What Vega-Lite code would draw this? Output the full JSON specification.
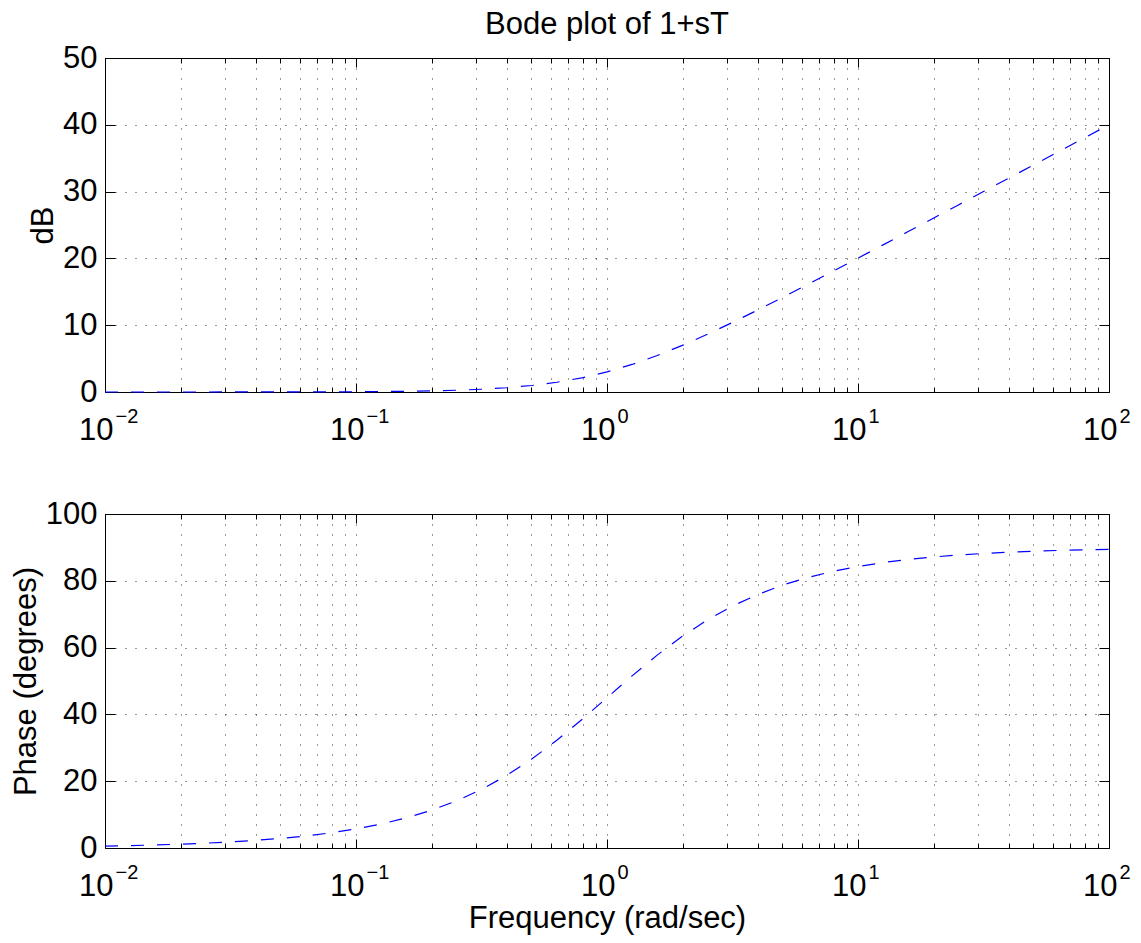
{
  "$schema": "https://vega.github.io/schema/vega-lite/v6.json",
  "padding": {"left": 9, "top": 8, "right": 5, "bottom": 2},
  "background": "white",
  "config": {
    "font": "Liberation Sans",
    "view": {"stroke": "#000", "strokeWidth": 1},
    "axis": {"labelColor": "#000", "titleColor": "#000", "tickColor": "#000", "tickWidth": 1, "labelFontSize": 31, "titleFontSize": 31, "titleFontWeight": "normal", "labelFlush": false, "labelOverlap": false, "domain": false}
  },
  "data": {"values": [
    {"w": 0.01, "db": 0.0004, "ph": 0.5729},
    {"w": 0.012589, "db": 0.0007, "ph": 0.7213},
    {"w": 0.015849, "db": 0.0011, "ph": 0.9080},
    {"w": 0.019953, "db": 0.0017, "ph": 1.1431},
    {"w": 0.025119, "db": 0.0027, "ph": 1.4389},
    {"w": 0.031623, "db": 0.0043, "ph": 1.8112},
    {"w": 0.039811, "db": 0.0069, "ph": 2.2798},
    {"w": 0.050119, "db": 0.0109, "ph": 2.8692},
    {"w": 0.063096, "db": 0.0173, "ph": 3.6103},
    {"w": 0.079433, "db": 0.0273, "ph": 4.5416},
    {"w": 0.1, "db": 0.0432, "ph": 5.7106},
    {"w": 0.125893, "db": 0.0683, "ph": 7.1754},
    {"w": 0.158489, "db": 0.1078, "ph": 9.0059},
    {"w": 0.199526, "db": 0.1695, "ph": 11.2838},
    {"w": 0.251189, "db": 0.2657, "ph": 14.1003},
    {"w": 0.316228, "db": 0.4139, "ph": 17.5484},
    {"w": 0.398107, "db": 0.6389, "ph": 21.7079},
    {"w": 0.501187, "db": 0.9732, "ph": 26.6195},
    {"w": 0.630957, "db": 1.4554, "ph": 32.2503},
    {"w": 0.794328, "db": 2.1244, "ph": 38.4611},
    {"w": 1, "db": 3.0103, "ph": 45},
    {"w": 1.258925, "db": 4.1244, "ph": 51.5389},
    {"w": 1.584893, "db": 5.4554, "ph": 57.7497},
    {"w": 1.995262, "db": 6.9732, "ph": 63.3805},
    {"w": 2.511886, "db": 8.6389, "ph": 68.2921},
    {"w": 3.162278, "db": 10.4139, "ph": 72.4516},
    {"w": 3.981072, "db": 12.2657, "ph": 75.8997},
    {"w": 5.011872, "db": 14.1695, "ph": 78.7162},
    {"w": 6.309573, "db": 16.1078, "ph": 80.9941},
    {"w": 7.943282, "db": 18.0683, "ph": 82.8246},
    {"w": 10, "db": 20.0432, "ph": 84.2894},
    {"w": 12.589254, "db": 22.0273, "ph": 85.4584},
    {"w": 15.848932, "db": 24.0173, "ph": 86.3897},
    {"w": 19.952623, "db": 26.0109, "ph": 87.1308},
    {"w": 25.118864, "db": 28.0069, "ph": 87.7202},
    {"w": 31.622777, "db": 30.0043, "ph": 88.1888},
    {"w": 39.810717, "db": 32.0027, "ph": 88.5611},
    {"w": 50.118723, "db": 34.0017, "ph": 88.8569},
    {"w": 63.095734, "db": 36.0011, "ph": 89.0920},
    {"w": 79.432823, "db": 38.0007, "ph": 89.2787},
    {"w": 100, "db": 40.0004, "ph": 89.4271}
  ]},
  "spacing": 122,
  "bounds": "flush",
  "vconcat": [
    {
      "width": 1004,
      "height": 334,
      "title": {"text": "Bode plot of 1+sT", "fontSize": 31, "fontWeight": "normal", "offset": 1, "anchor": "middle", "frame": "group", "color": "#000"},
      "layer": [
        {
          "mark": {"type": "line", "color": "#0000ff", "strokeWidth": 1.2, "strokeDash": [13, 13]},
          "encoding": {
            "x": {"field": "w", "type": "quantitative", "scale": {"type": "log", "domain": [0.01, 100], "nice": false},
              "axis": {"orient": "bottom", "values": [0.01,0.02,0.03,0.04,0.05,0.06,0.07,0.08,0.09,0.1,0.2,0.3,0.4,0.5,0.6,0.7,0.8,0.9,1,2,3,4,5,6,7,8,9,10,20,30,40,50,60,70,80,90,100],
                "grid": true, "gridDash": [1, 9], "gridColor": "#000", "gridOpacity": 0.8, "ticks": true,
                "tickSize": {"condition": {"test": "abs(log(datum.value)/LN10 - round(log(datum.value)/LN10)) < 0.001", "value": -9}, "value": -5},
                "labels": false, "title": null}},
            "y": {"field": "db", "type": "quantitative", "scale": {"domain": [0, 50], "nice": false},
              "axis": {"orient": "left", "values": [0, 10, 20, 30, 40, 50], "grid": true, "gridDash": [1, 9], "gridColor": "#000", "gridOpacity": 0.8,
                "ticks": false, "labelPadding": 8, "title": "dB", "titlePadding": 3}}
          }
        },
        {
          "mark": {"type": "line", "strokeOpacity": 0},
          "encoding": {
            "x": {"field": "w", "type": "quantitative",
              "axis": {"orient": "bottom", "values": [0.01, 0.1, 1, 10, 100], "ticks": false, "grid": false, "labelExpr": "'10'",
                "labelAlign": "right", "labelBaseline": "top", "labelOffset": 8,
                "labelPadding": 23, "title": null}},
            "y": {"field": "db", "type": "quantitative",
              "axis": {"orient": "right", "values": [0, 10, 20, 30, 40, 50], "ticks": true, "tickSize": -10, "labels": false, "grid": false, "title": null}}
          }
        },
        {
          "mark": {"type": "line", "strokeOpacity": 0},
          "encoding": {
            "x": {"field": "w", "type": "quantitative",
              "axis": {"orient": "bottom", "values": [0.01, 0.1, 1, 10, 100], "ticks": false, "grid": false,
                "labelExpr": "replace(format(round(log(datum.value)/LN10), 'd'), '-', '−')",
                "labelAlign": "left", "labelBaseline": "top", "labelFontSize": 20, "labelOffset": 10,
                "labelPadding": 14, "title": null}},
            "y": {"field": "db", "type": "quantitative",
              "axis": {"orient": "left", "values": [0, 10, 20, 30, 40, 50], "ticks": true, "tickSize": -10, "labels": false, "grid": false, "title": null}}
          }
        },
        {
          "mark": {"type": "line", "strokeOpacity": 0},
          "encoding": {
            "x": {"field": "w", "type": "quantitative",
              "axis": {"orient": "top", "values": [0.01,0.02,0.03,0.04,0.05,0.06,0.07,0.08,0.09,0.1,0.2,0.3,0.4,0.5,0.6,0.7,0.8,0.9,1,2,3,4,5,6,7,8,9,10,20,30,40,50,60,70,80,90,100],
                "ticks": true, "tickSize": {"condition": {"test": "abs(log(datum.value)/LN10 - round(log(datum.value)/LN10)) < 0.001", "value": -9}, "value": -5},
                "labels": false, "grid": false, "title": null}},
            "y": {"field": "db", "type": "quantitative", "axis": null}
          }
        }
      ],
      "resolve": {"axis": {"x": "independent", "y": "independent"}}
    },
    {
      "width": 1004,
      "height": 334,
      "layer": [
        {
          "mark": {"type": "line", "color": "#0000ff", "strokeWidth": 1.2, "strokeDash": [13, 13]},
          "encoding": {
            "x": {"field": "w", "type": "quantitative", "scale": {"type": "log", "domain": [0.01, 100], "nice": false},
              "axis": {"orient": "bottom", "values": [0.01,0.02,0.03,0.04,0.05,0.06,0.07,0.08,0.09,0.1,0.2,0.3,0.4,0.5,0.6,0.7,0.8,0.9,1,2,3,4,5,6,7,8,9,10,20,30,40,50,60,70,80,90,100],
                "grid": true, "gridDash": [1, 9], "gridColor": "#000", "gridOpacity": 0.8, "ticks": true,
                "tickSize": {"condition": {"test": "abs(log(datum.value)/LN10 - round(log(datum.value)/LN10)) < 0.001", "value": -9}, "value": -5},
                "labels": false, "title": null}},
            "y": {"field": "ph", "type": "quantitative", "scale": {"domain": [0, 100], "nice": false},
              "axis": {"orient": "left", "values": [0, 20, 40, 60, 80, 100], "grid": true, "gridDash": [1, 9], "gridColor": "#000", "gridOpacity": 0.8,
                "ticks": false, "labelPadding": 8, "title": "Phase (degrees)", "titlePadding": 3}}
          }
        },
        {
          "mark": {"type": "line", "strokeOpacity": 0},
          "encoding": {
            "x": {"field": "w", "type": "quantitative",
              "axis": {"orient": "bottom", "values": [0.01, 0.1, 1, 10, 100], "ticks": false, "grid": false, "labelExpr": "'10'",
                "labelAlign": "right", "labelBaseline": "top", "labelOffset": 8,
                "labelPadding": 23, "title": "Frequency (rad/sec)", "titlePadding": 2}},
            "y": {"field": "ph", "type": "quantitative",
              "axis": {"orient": "right", "values": [0, 20, 40, 60, 80, 100], "ticks": true, "tickSize": -10, "labels": false, "grid": false, "title": null}}
          }
        },
        {
          "mark": {"type": "line", "strokeOpacity": 0},
          "encoding": {
            "x": {"field": "w", "type": "quantitative",
              "axis": {"orient": "bottom", "values": [0.01, 0.1, 1, 10, 100], "ticks": false, "grid": false,
                "labelExpr": "replace(format(round(log(datum.value)/LN10), 'd'), '-', '−')",
                "labelAlign": "left", "labelBaseline": "top", "labelFontSize": 20, "labelOffset": 10,
                "labelPadding": 14, "title": null}},
            "y": {"field": "ph", "type": "quantitative",
              "axis": {"orient": "left", "values": [0, 20, 40, 60, 80, 100], "ticks": true, "tickSize": -10, "labels": false, "grid": false, "title": null}}
          }
        },
        {
          "mark": {"type": "line", "strokeOpacity": 0},
          "encoding": {
            "x": {"field": "w", "type": "quantitative",
              "axis": {"orient": "top", "values": [0.01,0.02,0.03,0.04,0.05,0.06,0.07,0.08,0.09,0.1,0.2,0.3,0.4,0.5,0.6,0.7,0.8,0.9,1,2,3,4,5,6,7,8,9,10,20,30,40,50,60,70,80,90,100],
                "ticks": true, "tickSize": {"condition": {"test": "abs(log(datum.value)/LN10 - round(log(datum.value)/LN10)) < 0.001", "value": -9}, "value": -5},
                "labels": false, "grid": false, "title": null}},
            "y": {"field": "ph", "type": "quantitative", "axis": null}
          }
        }
      ],
      "resolve": {"axis": {"x": "independent", "y": "independent"}}
    }
  ]
}
